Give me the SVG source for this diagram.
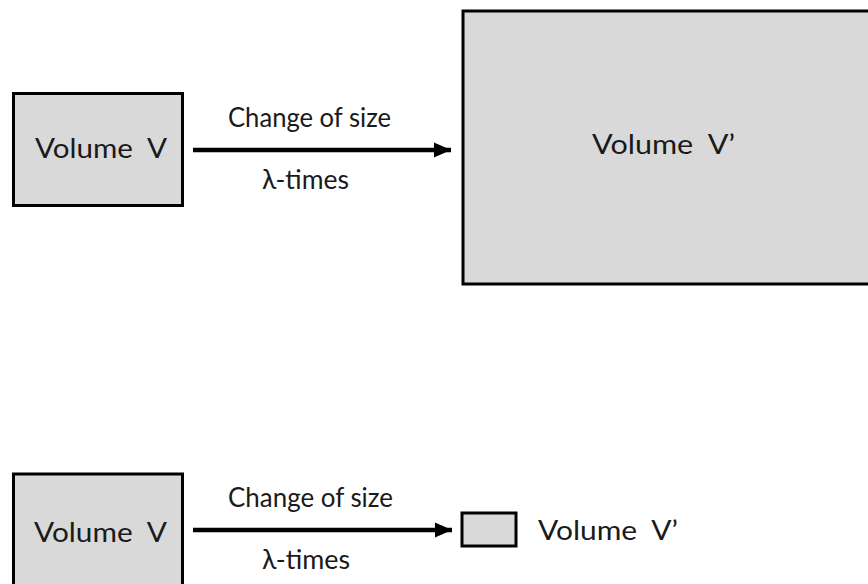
<svg xmlns="http://www.w3.org/2000/svg" width="868" height="584" viewBox="0 0 868 584">
<style>
.box{fill:#d9d9d9;stroke:#000;stroke-width:3}
.t{font-family:Lato,"Open Sans","Liberation Sans",sans-serif;font-size:27px;fill:#1a1a1a;white-space:pre}
.arr{stroke:#000;stroke-width:4.5;fill:none}
</style>
<defs>
<marker id="ah" markerUnits="userSpaceOnUse" markerWidth="18" markerHeight="18" refX="17" refY="9" orient="auto">
<path d="M0,1.5 L17,9 L0,16.5 z" fill="#000"/>
</marker>
</defs>
<rect width="868" height="584" fill="#fff"/>
<g id="top-v">
<rect class="box" x="13.5" y="93.5" width="169" height="112"/>
<text class="t" x="35" y="158" textLength="132" lengthAdjust="spacingAndGlyphs">Volume  V</text>
</g>
<g id="top-vprime">
<rect class="box" x="463" y="11" width="420" height="273"/>
<text class="t" x="592" y="154" textLength="143" lengthAdjust="spacingAndGlyphs">Volume  V’</text>
</g>
<g id="bottom-v">
<rect class="box" x="13.5" y="474" width="169" height="130"/>
<text class="t" x="34" y="542" textLength="133" lengthAdjust="spacingAndGlyphs">Volume  V</text>
</g>
<g id="bottom-vprime">
<rect class="box" x="462" y="513" width="54" height="33"/>
<text class="t" x="538" y="540" textLength="140" lengthAdjust="spacingAndGlyphs">Volume  V’</text>
</g>
<g id="connectors">
<line class="arr" x1="193" y1="150" x2="451" y2="150" marker-end="url(#ah)"/>
<text class="t" x="228" y="127" textLength="163" lengthAdjust="spacingAndGlyphs">Change of size</text>
<text class="t" x="262" y="189" textLength="87" lengthAdjust="spacingAndGlyphs">λ-times</text>
<line class="arr" x1="193" y1="530" x2="452" y2="530" marker-end="url(#ah)"/>
<text class="t" x="228" y="507" textLength="165" lengthAdjust="spacingAndGlyphs">Change of size</text>
<text class="t" x="262" y="569" textLength="88" lengthAdjust="spacingAndGlyphs">λ-times</text>
</g>
</svg>
